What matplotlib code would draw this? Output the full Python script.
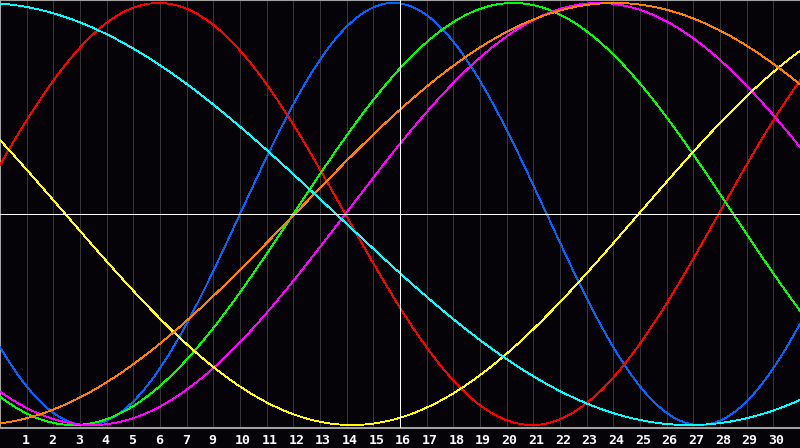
import numpy as np
import matplotlib
matplotlib.use("Agg")
import matplotlib.pyplot as plt
from matplotlib.transforms import offset_copy

# Biorhythm cycles: period (days) and day index of peak
cycle_names = ["physical", "emotional", "intellectual", "intuitive", "aesthetic", "awareness", "spiritual"]
cycle_periods = [23, 28, 33, 38, 43, 48, 53]
cycle_peak_days = [14.75, 5.95, 19.25, 22.45, 34.7, 23.05, -0.65]
cycle_colors = ["#0064ff", "#ff0000", "#00ff00", "#ff00ff", "#ffff00", "#ff8000", "#00ffff"]

# x-axis tick labels (day 8 is absent on the reference)
tick_labels = ["1", "2", "3", "4", "5", "6", "7", "9", "10", "11", "12", "13", "14", "15",
               "16", "17", "18", "19", "20", "21", "22", "23", "24", "25", "26", "27", "28", "29", "30"]
today_index = 15
n_days = 30

bg = "#050308"
fig = plt.figure(figsize=(8.0, 4.48), dpi=100, facecolor=bg)
ax = fig.add_axes([0, 20 / 448, 1, 428 / 448], facecolor=bg)

x = np.linspace(0, n_days, 1200)
ax.vlines(np.arange(1, n_days), -1.1, 1.1, color="#363636", lw=0.72, zorder=1, antialiased=False)

for P, pk, c in zip(cycle_periods, cycle_peak_days, cycle_colors):
    y = np.cos(2 * np.pi * (x - pk) / P)
    ax.plot(x, y, color=c, lw=0.6, zorder=3, antialiased=False)

ax.axhline(0, color="white", lw=0.55, zorder=4, antialiased=False)
ax.axvline(today_index, color="white", lw=0.55, zorder=4, antialiased=False)

ax.set_xlim(0, n_days)
ax.set_ylim(-1.014, 1.014)
ax.set_xticks([])
ax.set_yticks([])
for s in ["top", "left", "bottom"]:
    ax.spines[s].set_color("#a0a0a0")
    ax.spines[s].set_linewidth(1.5)
ax.spines["right"].set_visible(False)

trans = offset_copy(ax.get_xaxis_transform(), fig=fig, x=-5, y=-6, units="dots")
for i, lab in enumerate(tick_labels):
    ax.text(i + 1, 0, lab, transform=trans, ha="left", va="top",
            color="white", fontsize=9.5, fontweight="bold",
            family="DejaVu Sans Mono", clip_on=False)

fig.savefig("out.png", dpi=100, facecolor=bg)
